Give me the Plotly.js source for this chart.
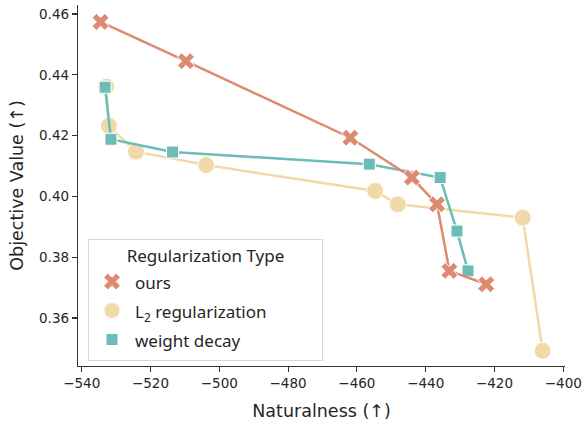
<!DOCTYPE html>
<html>
<head>
<meta charset="utf-8">
<script src="https://cdn.plot.ly/plotly-3.0.1.min.js"></script>
<style>html,body{margin:0;padding:0;background:#fff;}#chart{width:582px;height:421px;}</style>
</head>
<body>
<div id="chart"></div>
<script>
// Data
const seriesNames = ["ours", "L<sub>2</sub> regularization", "weight decay"];

const oursX = [-534.5, -509.7, -461.9, -444.0, -436.7, -433.1, -422.4];
const oursY = [0.4574, 0.4445, 0.4193, 0.4062, 0.3974, 0.3755, 0.3711];

const l2X = [-532.9, -532.1, -524.2, -503.8, -454.7, -448.1, -411.8, -406.0];
const l2Y = [0.4361, 0.4232, 0.4147, 0.4103, 0.4018, 0.3974, 0.3930, 0.3492];

const wdX = [-533.2, -531.5, -513.6, -456.4, -435.8, -430.9, -427.7];
const wdY = [0.4359, 0.4188, 0.4146, 0.4106, 0.4062, 0.3886, 0.3755];

const xTicks = [-540, -520, -500, -480, -460, -440, -420, -400];
const yTicks = [0.36, 0.38, 0.40, 0.42, 0.44, 0.46];

const legendTitle = "Regularization Type";

const cOurs = "rgb(222,138,112)";
const cL2 = "rgb(241,217,170)";
const cWd = "rgb(108,188,184)";

function lineTrace(x, y, color) {
  return {x: x, y: y, mode: "lines", type: "scatter", showlegend: false, hoverinfo: "skip",
          line: {color: color, width: 2.5}};
}
function markTrace(x, y, color, symbol, size, name, rank) {
  return {x: x, y: y, mode: "markers", type: "scatter", name: '<span style="font-size:17px">' + name + '</span>',
          legendrank: rank,
          marker: {color: color, symbol: symbol, size: size, line: {color: "white", width: 1}}};
}

const data = [
  lineTrace(l2X, l2Y, cL2),
  markTrace(l2X, l2Y, cL2, "circle", 17, seriesNames[1], 2),
  lineTrace(wdX, wdY, cWd),
  markTrace(wdX, wdY, cWd, "square", 12, seriesNames[2], 3),
  lineTrace(oursX, oursY, cOurs),
  markTrace(oursX, oursY, cOurs, "x", 15, seriesNames[0], 1)
];

const tickFont = {family: "DejaVu Sans", size: 13.5, color: "#262626"};
const titleFont = {family: "DejaVu Sans", size: 17.5, color: "#262626"};
const pad = "\u00a0".repeat(8);

const layout = {
  width: 582, height: 421,
  margin: {l: 78, r: 17, t: 5, b: 55},
  paper_bgcolor: "white", plot_bgcolor: "white",
  xaxis: {
    range: [-541.08, -399.5], tickvals: xTicks, ticktext: xTicks.map(v => "\u2212" + Math.abs(v)),
    showgrid: false, zeroline: false, showline: true, linecolor: "#333", linewidth: 1.2,
    ticks: "outside", ticklen: 5, tickcolor: "#333", tickwidth: 1.2, tickfont: tickFont,
    title: {text: "Naturalness (\u2191)", font: titleFont, standoff: 14}
  },
  yaxis: {
    range: [0.34421, 0.46296], tickvals: yTicks, ticktext: yTicks.map(v => v.toFixed(2)),
    showgrid: false, zeroline: false, showline: true, linecolor: "#333", linewidth: 1.2,
    ticks: "outside", ticklen: 5, tickcolor: "#333", tickwidth: 1.2, tickfont: tickFont,
    title: {text: "Objective Value (\u2191)", font: titleFont, standoff: 11}
  },
  legend: {
    x: 0.0205, y: 0.352, xanchor: "left", yanchor: "top",
    bgcolor: "rgba(255,255,255,0.85)", bordercolor: "#d9d9d9", borderwidth: 1,
    font: {family: "Noto Sans", size: 20, color: "#262626"},
    title: {text: pad + legendTitle + pad, side: "top center", font: {family: "Noto Sans", size: 17, color: "#262626"}},
    itemsizing: "trace", itemwidth: 36
  },
  showlegend: true
};

Plotly.newPlot("chart", data, layout, {displayModeBar: false, staticPlot: true});
</script>
</body>
</html>
